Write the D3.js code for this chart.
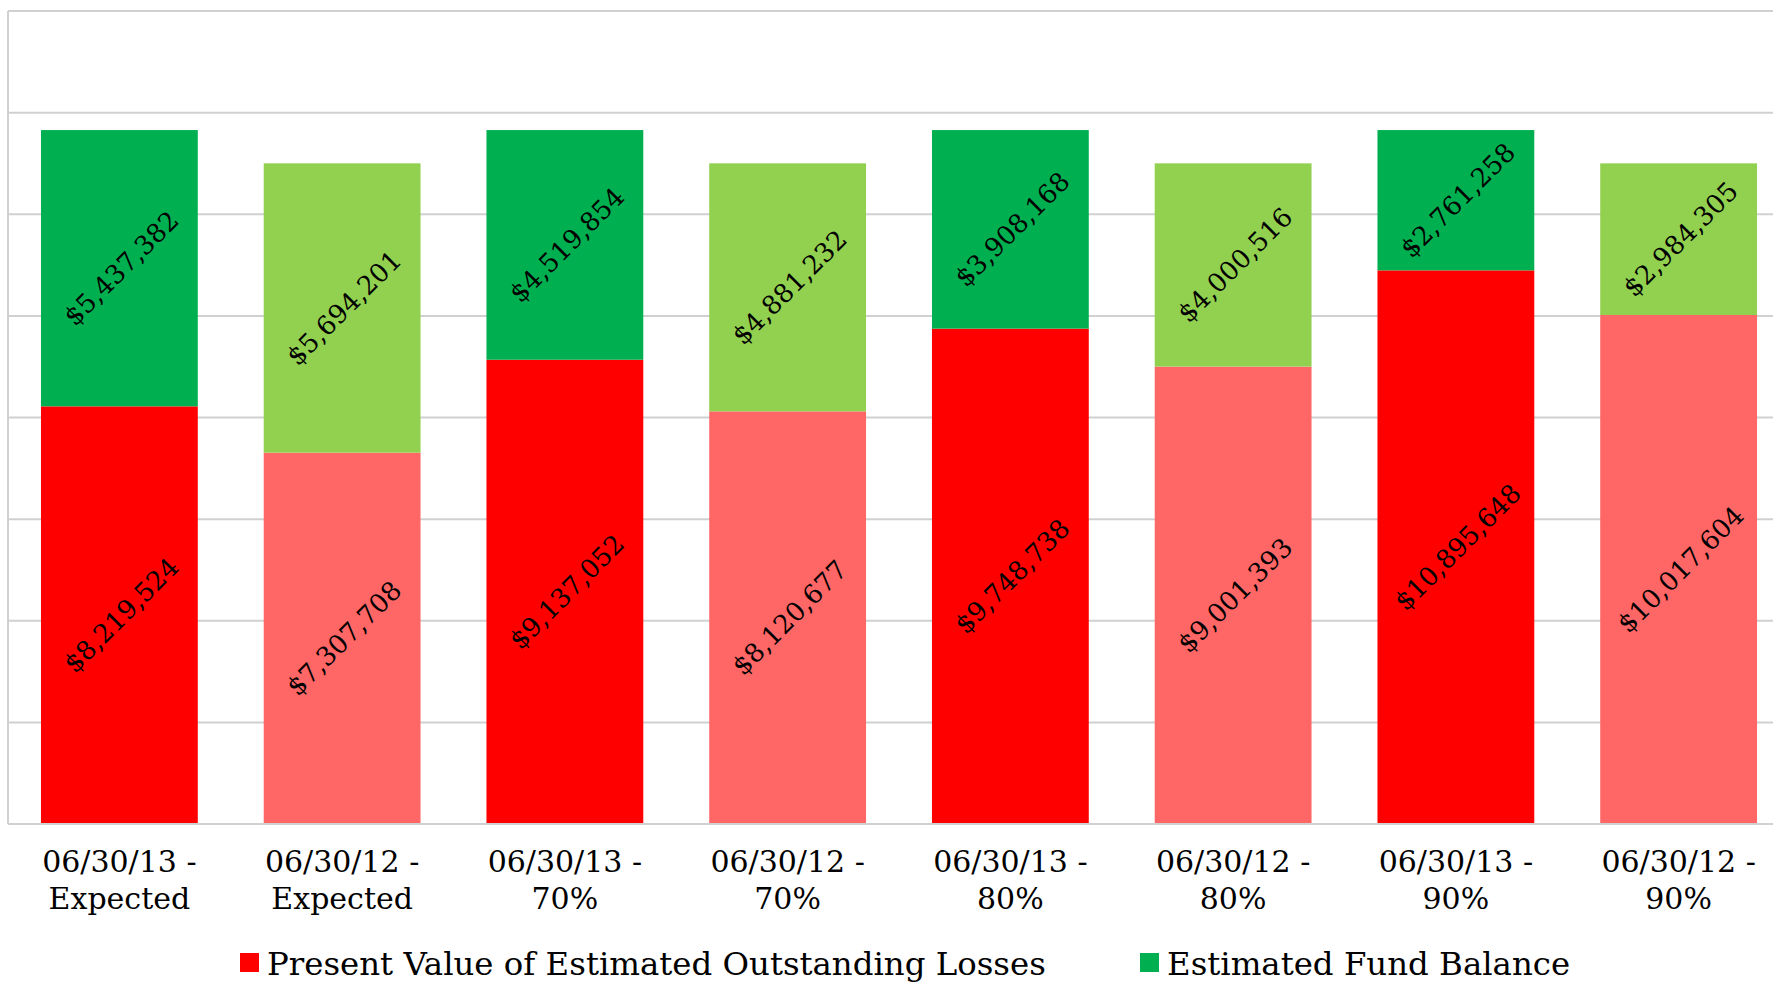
<!DOCTYPE html>
<html>
<head>
<meta charset="utf-8">
<script src="https://cdn.jsdelivr.net/npm/d3@7"></script>
<style>
  body { margin: 0; background: #fff; }
  svg text { font-family: "DejaVu Serif", "Liberation Serif", serif; fill: #000; }
</style>
</head>
<body>
<div id="chart"></div>
<script>
var width = 1773;
var height = 984;

// data
var categories = ["06/30/13 - Expected", "06/30/12 - Expected", "06/30/13 - 70%", "06/30/12 - 70%",
                  "06/30/13 - 80%", "06/30/12 - 80%", "06/30/13 - 90%", "06/30/12 - 90%"];
var losses = [8219524, 7307708, 9137052, 8120677, 9748738, 9001393, 10895648, 10017604];
var fund = [5437382, 5694201, 4519854, 4881232, 3908168, 4000516, 2761258, 2984305];
var seriesNames = ["Present Value of Estimated Outstanding Losses", "Estimated Fund Balance"];
var yTicks = [0, 2000000, 4000000, 6000000, 8000000, 10000000, 12000000, 14000000, 16000000];

var plot = {left: 8, top: 11, bottom: 824, right: 1790};

var svg = d3.select('#chart').append('svg')
  .attr("width", width)
  .attr("height", height);

var x = d3.scaleBand()
  .domain(categories)
  .range([plot.left, plot.right])
  .paddingInner(0.296)
  .paddingOuter(0.148);
var y = d3.scaleLinear()
  .domain([0, 16000000])
  .range([plot.bottom, plot.top]);

// gridlines
svg.append('g').selectAll('line')
  .data(yTicks)
  .enter().append('line')
  .attr("x1", plot.left).attr("x2", width)
  .attr("y1", d => y(d)).attr("y2", d => y(d))
  .attr("stroke", "#d0d0d0")
  .attr("stroke-width", 2);

svg.append('line')
  .attr("x1", plot.left).attr("x2", plot.left)
  .attr("y1", y(16000000)).attr("y2", y(0))
  .attr("stroke", "#d0d0d0").attr("stroke-width", 2);

// alternating shades: 06/30/13 darker, 06/30/12 lighter
var lossColor = (d, i) => i % 2 == 0 ? "#ff0000" : "#ff6666";
var fundColor = (d, i) => i % 2 == 0 ? "#00b050" : "#92d050";

var rows = categories.map(function(c, i) {
  return {cat: c, loss: losses[i], fund: fund[i]};
});

// losses segment
svg.append('g').selectAll('rect')
  .data(rows)
  .enter().append('rect')
  .attr("x", d => x(d.cat))
  .attr("y", d => y(d.loss))
  .attr("width", x.bandwidth())
  .attr("height", d => y(0) - y(d.loss))
  .attr("fill", lossColor);

// fund segment
svg.append('g').selectAll('rect')
  .data(rows)
  .enter().append('rect')
  .attr("x", d => x(d.cat))
  .attr("y", d => y(d.loss + d.fund))
  .attr("width", x.bandwidth())
  .attr("height", d => y(d.loss) - y(d.loss + d.fund))
  .attr("fill", fundColor);

// axis line on top of bars
svg.append('line')
  .attr("x1", plot.left).attr("x2", width)
  .attr("y1", y(0)).attr("y2", y(0))
  .attr("stroke", "#d0d0d0").attr("stroke-width", 2);

var fmt = v => "$" + d3.format(",")(v);

function addLabels(cls, valueOf, midOf) {
  svg.append('g').selectAll('text.' + cls)
    .data(rows)
    .enter().append('text')
    .attr("class", cls)
    .attr("transform", d => "translate(" + (x(d.cat) + x.bandwidth() / 2 + 2) + "," + y(midOf(d)) + ") rotate(-45)")
    .attr("text-anchor", "middle")
    .attr("dominant-baseline", "central")
    .style("font-size", "26px")
    .text(d => fmt(valueOf(d)));
}
addLabels("lossLbl", d => d.loss, d => d.loss / 2);
addLabels("fundLbl", d => d.fund, d => d.loss + d.fund / 2);

// category labels, two lines
var catLbl = svg.append('g').selectAll('text')
  .data(categories)
  .enter().append('text')
  .attr("text-anchor", "middle")
  .style("font-size", "30px");
catLbl.append('tspan')
  .attr("x", d => x(d) + x.bandwidth() / 2)
  .attr("y", 872)
  .text(d => d.split(" - ")[0] + " -");
catLbl.append('tspan')
  .attr("x", d => x(d) + x.bandwidth() / 2)
  .attr("y", 909)
  .text(d => d.split(" - ")[1]);

// legend
var legendX = [240, 1140];
var legendColors = ["#ff0000", "#00b050"];
var lg = svg.append('g').selectAll('g')
  .data(seriesNames)
  .enter().append('g')
  .attr("transform", (d, i) => "translate(" + legendX[i] + ",953)");
lg.append('rect')
  .attr("width", 19).attr("height", 19)
  .attr("fill", (d, i) => legendColors[i]);
lg.append('text')
  .attr("x", 27)
  .attr("y", 22)
  .style("font-size", "32.4px")
  .text(d => d);
</script>
</body>
</html>
